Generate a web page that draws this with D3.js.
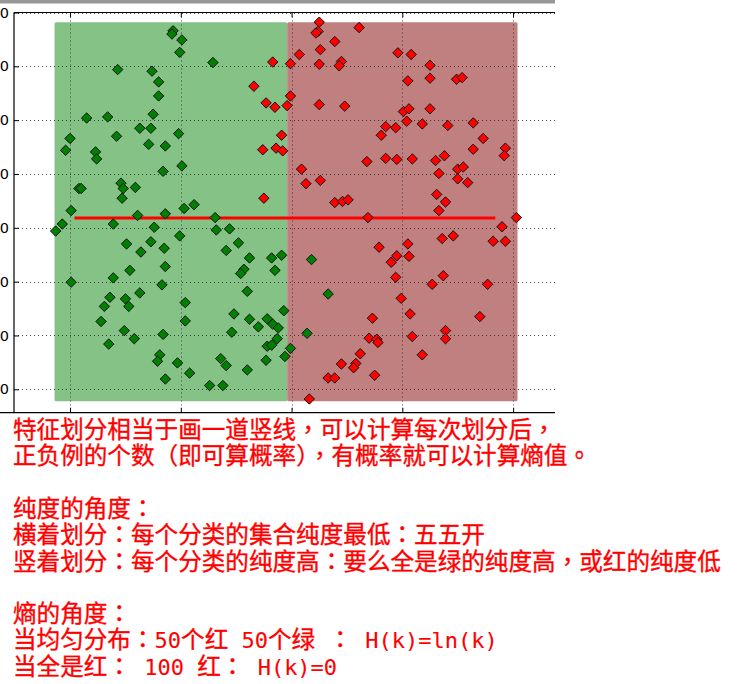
<!DOCTYPE html>
<html>
<head>
<meta charset="utf-8">
<script src="https://cdn.jsdelivr.net/npm/d3@7"></script>
<style>
  html, body { margin: 0; padding: 0; background: #fff; }
  svg { display: block; }
</style>
</head>
<body>
<svg id="chart" width="740" height="684"></svg>
<script>
// ---------------- data ----------------
const xTicks = [0, 10, 20, 30, 40];
const yTicks = [0, 10, 20, 30, 40, 50, 60, 70];

const greenX = [9.3, 9.2, 10.1, 9.9, 12.9, 4.3, 7.4, 8.0, 8.0, 7.5,
  1.5, 3.4, 6.3, 7.3, 9.8, 4.2, 0.0, 7.1, 8.6, -0.4,
  2.3, 2.4, 8.4, 10.1, 0.8, 1.0, 4.6, 4.8, 5.9, 4.7,
  0.1, 10.3, 11.2, 6.1, 8.6, 13.1, -0.7, -1.3, 3.9, 7.6,
  9.9, 13.2, 14.4, 5.1, 7.3, 6.4, 8.5, 14.1, 15.2, 16.2,
  18.2, 19.1, 5.4, 8.6, 15.7, 15.4, 18.5, 3.9, 0.1, 8.3,
  3.6, 5.0, 6.3, 3.1, 5.3, 10.4, 2.8, 10.4, 4.9, 5.8,
  8.4, 3.5, 8.1, 7.9, 9.7, 8.6, 10.8, 12.6, 13.8, 13.6,
  14.1, 16.0, 17.7, 16.0, 14.8, 16.2, 17.8, 18.3, 18.8, 17.0,
  19.3, 14.6, 18.7, 17.8, 18.2, 19.4, 19.9, 23.3, 21.4, 21.8];
const greenY = [66.6, 66.0, 64.9, 62.6, 60.7, 59.4, 59.1, 57.1, 54.5, 51.1,
  50.4, 50.6, 48.5, 48.5, 47.5, 47.0, 46.6, 45.5, 45.2, 44.4,
  44.1, 42.8, 40.5, 41.5, 37.3, 37.3, 38.3, 37.3, 37.5, 35.5,
  33.2, 33.6, 34.3, 32.3, 32.6, 31.9, 30.7, 29.4, 30.7, 30.1,
  28.5, 29.6, 29.8, 27.0, 27.4, 25.5, 26.2, 25.8, 27.2, 24.4,
  24.4, 24.9, 22.1, 22.8, 22.3, 21.5, 22.1, 20.7, 19.9, 19.4,
  17.1, 16.8, 17.9, 15.4, 15.4, 16.1, 12.6, 12.7, 10.9, 9.4,
  10.2, 8.4, 6.4, 5.2, 4.9, 1.9, 3.0, 0.7, 0.7, 5.7,
  4.4, 3.6, 5.4, 18.2, 14.0, 13.0, 13.1, 12.1, 11.4, 11.6,
  14.6, 10.6, 9.4, 8.0, 8.2, 6.1, 7.6, 17.7, 10.4, 24.1];

const redX = [18.3, 19.9, 16.6, 17.7, 18.5, 19.6, 19.9, 19.1, 17.4, 18.6,
  19.2, 17.5, 22.5, 22.4, 22.2, 26.1, 23.9, 22.6, 20.7, 29.6,
  30.8, 22.5, 24.5, 24.3, 32.5, 30.5, 32.5, 34.9, 35.4, 22.5,
  24.8, 30.1, 30.6, 32.5, 30.4, 31.8, 34.1, 36.4, 28.5, 29.4,
  28.1, 37.3, 36.4, 39.3, 39.2, 26.8, 28.5, 29.5, 30.9, 33.0,
  33.8, 20.9, 21.3, 22.6, 33.3, 35.0, 35.5, 35.0, 35.9, 23.9,
  24.6, 25.1, 33.1, 33.9, 33.3, 26.9, 40.3, 39.0, 33.6, 34.6,
  38.2, 39.3, 27.9, 30.5, 29.5, 30.6, 29.0, 29.4, 33.7, 32.7,
  37.7, 29.9, 27.3, 30.7, 37.0, 33.9, 33.9, 27.0, 27.7, 27.8,
  30.9, 26.2, 31.8, 24.5, 25.8, 25.6, 23.3, 23.9, 27.5, 21.6];
const redY = [60.8, 60.5, 56.3, 53.2, 52.4, 52.7, 54.5, 47.2, 44.5, 44.8,
  44.3, 35.5, 68.2, 66.5, 66.2, 67.2, 64.6, 63.1, 62.2, 62.5,
  62.2, 60.4, 60.9, 60.1, 60.2, 57.3, 57.8, 57.6, 57.9, 52.9,
  52.6, 51.6, 52.1, 52.1, 49.8, 49.3, 49.0, 49.5, 48.8, 48.6,
  47.2, 46.6, 44.6, 44.8, 43.4, 42.3, 42.9, 42.7, 42.8, 42.5,
  43.4, 40.9, 38.2, 38.8, 40.1, 40.9, 41.3, 39.1, 38.4, 34.7,
  34.9, 35.2, 36.2, 34.8, 33.2, 31.9, 31.9, 30.2, 28.0, 28.5,
  27.5, 27.5, 26.4, 27.0, 24.8, 24.7, 23.6, 20.8, 21.1, 19.5,
  19.5, 16.9, 13.2, 14.0, 13.5, 10.9, 9.4, 9.5, 9.3, 8.7,
  9.8, 6.6, 6.4, 4.7, 4.8, 4.0, 2.1, 2.1, 2.6, -1.8];

const spanX = [-1.4, 19.6, 40.4];   // green span, red span boundaries
const spanY = [-2.2, 68.2];
const splitLineX = [0.4, 38.4];
const splitLineY = 31.8;

// text lines: segments [text, mono?]
const noteLines = [
  [["特征划分相当于画一道竖线，可以计算每次划分后，", false]],
  [["正负例的个数（即可算概率），有概率就可以计算熵值。", false]],
  [],
  [["纯度的角度：", false]],
  [["横着划分：每个分类的集合纯度最低：五五开", false]],
  [["竖着划分：每个分类的纯度高：要么全是绿的纯度高，或红的纯度低", false]],
  [],
  [["熵的角度：", false]],
  [["当均匀分布：", false], ["50", true], ["个红", false], [" 50", true], ["个绿", false], [" ", true], ["：", false], [" H(k)=ln(k)", true]],
  [["当全是红：", false], [" 100 ", true], ["红：", false], [" H(k)=0", true]]
];

// ---------------- drawing ----------------
const svg = d3.select("#chart");

const x = d3.scaleLinear().domain([-5.06, 45.5]).range([14, 574]);
const y = d3.scaleLinear().domain([-4.35, 70]).range([412.7, 12.5]);

svg.append("defs").append("clipPath").attr("id", "clipChart")
  .append("rect").attr("x", 0).attr("y", 0).attr("width", 555).attr("height", 414);

// top gray band (window edge)
svg.append("rect").attr("x", 0).attr("y", 0).attr("width", 555).attr("height", 3.5).attr("fill", "#979797");

const g = svg.append("g").attr("clip-path", "url(#clipChart)");

// spans
g.append("rect")
  .attr("x", x(spanX[0])).attr("y", y(spanY[1]))
  .attr("width", x(spanX[1]) - x(spanX[0])).attr("height", y(spanY[0]) - y(spanY[1]))
  .attr("rx", 1.5).attr("fill", "#85c285");
g.append("rect")
  .attr("x", x(spanX[1])).attr("y", y(spanY[1]))
  .attr("width", x(spanX[2]) - x(spanX[1])).attr("height", y(spanY[0]) - y(spanY[1]))
  .attr("rx", 1.5).attr("fill", "#c08080");

// grid
const [x0, x1] = x.range();
const [yb, yt] = y.range();
g.append("g").selectAll("line").data(yTicks).join("line")
  .attr("x1", x0).attr("x2", x1)
  .attr("y1", d => Math.round(y(d)) + 0.5).attr("y2", d => Math.round(y(d)) + 0.5)
  .attr("stroke", "#222").attr("stroke-width", 0.8).attr("stroke-dasharray", "1,3");
g.append("g").selectAll("line").data(xTicks).join("line")
  .attr("y1", yt).attr("y2", yb)
  .attr("x1", d => Math.round(x(d)) + 0.5).attr("x2", d => Math.round(x(d)) + 0.5)
  .attr("stroke", "#222").attr("stroke-width", 0.8).attr("stroke-dasharray", "1,3");

// axes (inward ticks)
const axTop = g.append("g").attr("transform", `translate(0,${yt})`)
  .call(d3.axisTop(x).tickValues(xTicks).tickSize(-5).tickFormat(""));
const axBottom = g.append("g").attr("transform", `translate(0,${yb})`)
  .call(d3.axisBottom(x).tickValues(xTicks).tickSize(-5).tickFormat(""));
const axLeft = svg.append("g").attr("transform", `translate(${x0},0)`)
  .call(d3.axisLeft(y).tickValues(yTicks).tickSize(-5).tickPadding(5).tickFormat(d3.format("d")));
[axTop, axBottom, axLeft].forEach(a => {
  a.select(".domain").remove();
  a.selectAll(".tick line").attr("stroke", "#000").attr("stroke-width", 1);
});
axLeft.selectAll(".tick text")
  .attr("font-family", "DejaVu Sans, sans-serif").attr("font-size", 14.5).attr("fill", "#000");

// spines
g.append("line").attr("x1", x0).attr("x2", x1).attr("y1", yt).attr("y2", yt).attr("stroke", "#000").attr("stroke-width", 1.2);
svg.append("line").attr("x1", 0).attr("x2", 555).attr("y1", yb).attr("y2", yb).attr("stroke", "#000").attr("stroke-width", 1.2);
svg.append("line").attr("x1", x0).attr("x2", x0).attr("y1", yt).attr("y2", yb).attr("stroke", "#000").attr("stroke-width", 1.2);

// split line
g.append("line")
  .attr("x1", x(splitLineX[0])).attr("x2", x(splitLineX[1]))
  .attr("y1", y(splitLineY)).attr("y2", y(splitLineY))
  .attr("stroke", "#ff0000").attr("stroke-width", 3);

// points (matplotlib 'D' diamonds)
const r = 5.2;
const diamond = `M0,${-r}L${r},0L0,${r}L${-r},0Z`;
const greenPts = greenX.map((v, i) => [v, greenY[i]]);
const redPts = redX.map((v, i) => [v, redY[i]]);
g.append("g").selectAll("path").data(greenPts).join("path")
  .attr("d", diamond)
  .attr("transform", d => `translate(${x(d[0])},${y(d[1])})`)
  .attr("fill", "#008000").attr("stroke", "#111").attr("stroke-width", 1);
g.append("g").selectAll("path").data(redPts).join("path")
  .attr("d", diamond)
  .attr("transform", d => `translate(${x(d[0])},${y(d[1])})`)
  .attr("fill", "#ff0000").attr("stroke", "#111").attr("stroke-width", 1);

// notes
const lineH = 26.3;
const punct = /([，：（）。])/;
const textG = svg.append("g");
noteLines.forEach((segs, i) => {
  if (!segs.length) return;
  const t = textG.append("text")
    .attr("x", 13).attr("y", 438 + i * lineH)
    .attr("fill", "#ff0000").attr("stroke", "#ff0000").attr("stroke-width", 0.35)
    .attr("xml:space", "preserve")
    .style("white-space", "pre");
  segs.forEach(([s, mono]) => {
    if (mono) {
      t.append("tspan")
        .attr("font-family", "'DejaVu Sans Mono', 'Liberation Mono', monospace")
        .attr("font-size", 22).attr("stroke-width", 0.1)
        .text(s);
    } else {
      s.split(punct).filter(p => p.length).forEach(p => {
        t.append("tspan")
          .attr("font-family", punct.test(p) ? "'Noto Sans CJK TC', sans-serif" : "'Noto Sans CJK SC', sans-serif")
          .attr("font-size", 23.6)
          .text(p);
      });
    }
  });
});
</script>
</body>
</html>
